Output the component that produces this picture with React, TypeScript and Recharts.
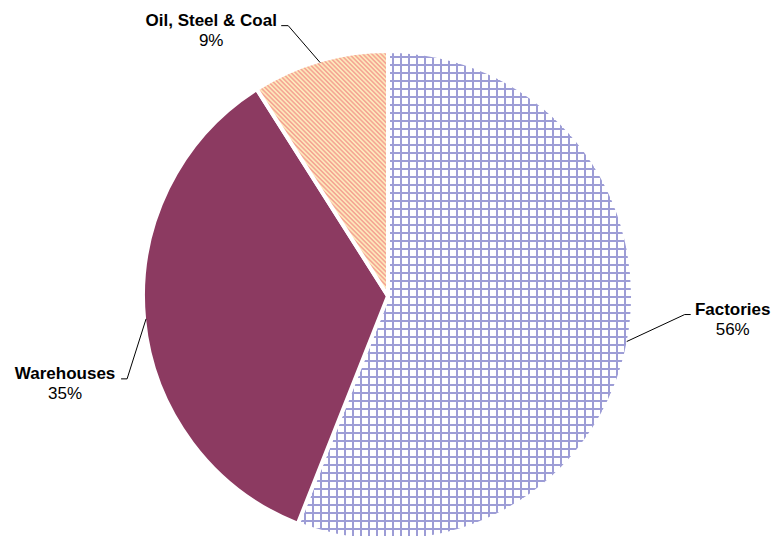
import { Cell, Pie, PieChart } from "recharts";

// values (percent of total)
const categories = ["Factories", "Warehouses", "Oil, Steel & Coal"];
const shares = [56, 35, 9];
const fills = ["url(#gridFill)", "#8c3a61", "url(#stripeFill)"];

// leader line layout per slice: elbow offset from the slice edge, short run, text offset
const LABEL_LAYOUT = [
  { elbow: [58, -27], run: 6, text: [42, 0] },
  { elbow: [-19, 60], run: -6, text: [-56, 0] },
  { elbow: [-32, -37], run: -7, text: [-70, 0] },
];

const data = categories.map((name, i) => ({ name, value: shares[i] }));

const RADIAN = Math.PI / 180;
const FONT = "'Liberation Sans', Arial, sans-serif";

function renderLabel(props: any) {
  const { cx, cy, midAngle, outerRadius, index, name, percent } = props;
  const lay = LABEL_LAYOUT[index];
  const ex = cx + (outerRadius - 2) * Math.cos(-midAngle * RADIAN);
  const ey = cy + (outerRadius - 2) * Math.sin(-midAngle * RADIAN);
  const bx = ex + lay.elbow[0];
  const by = ey + lay.elbow[1];
  const endX = bx + lay.run;
  const tx = endX + lay.text[0];
  const ty = by + lay.text[1];
  return (
    <g>
      <polyline
        points={`${ex},${ey} ${bx},${by} ${endX},${by}`}
        fill="none"
        stroke="#000"
        strokeWidth={1}
      />
      <text x={tx} y={ty} textAnchor="middle" fontFamily={FONT} fontSize={17} fontWeight="bold" fill="#000">
        {name}
      </text>
      <text x={tx} y={ty + 20} textAnchor="middle" fontFamily={FONT} fontSize={17} fill="#000">
        {`${Math.round(percent * 100)}%`}
      </text>
    </g>
  );
}

export default function App() {
  return (
    <div style={{ position: "absolute", left: 0, top: 0, width: 775, height: 536, background: "#fff" }}>
      <svg width={0} height={0} style={{ position: "absolute" }}>
        <defs>
          <pattern id="gridFill" width={8} height={8} patternUnits="userSpaceOnUse">
            <rect width={8} height={8} fill="#ffffff" />
            <rect x={0} y={0} width={2} height={8} fill="#9d9dd6" />
            <rect x={0} y={0} width={8} height={2} fill="#9d9dd6" />
          </pattern>
          <pattern
            id="stripeFill"
            width={3.2}
            height={8}
            patternUnits="userSpaceOnUse"
            patternTransform="rotate(-45)"
          >
            <rect width={3.2} height={8} fill="#fde8bb" />
            <rect width={1.6} height={8} fill="#f5a795" />
          </pattern>
        </defs>
      </svg>
      <PieChart width={775} height={536} margin={{ top: 0, right: 0, bottom: 0, left: 0 }}>
        <Pie
          data={data}
          dataKey="value"
          nameKey="name"
          cx={388}
          cy={296}
          outerRadius={245}
          startAngle={90}
          endAngle={-270}
          stroke="#ffffff"
          strokeWidth={4}
          label={renderLabel}
          labelLine={false}
          isAnimationActive={false}
        >
          {data.map((d, i) => (
            <Cell key={d.name} fill={fills[i]} />
          ))}
        </Pie>
      </PieChart>
    </div>
  );
}
